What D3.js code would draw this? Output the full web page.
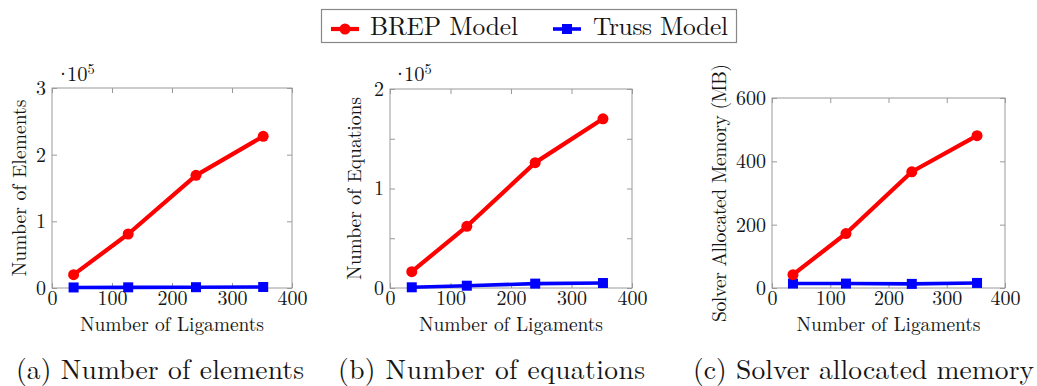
<!DOCTYPE html>
<html>
<head>
<meta charset="utf-8">
<script src="https://cdn.jsdelivr.net/npm/d3@7"></script>
<style>
  html, body { margin: 0; padding: 0; background: #fff; }
  svg { display: block; }
</style>
</head>
<body>
<svg id="chart" width="1037" height="386"></svg>
<script>
// ---------------- data ----------------
const ligaments = [36, 127, 240, 352];
const xTicks = [0, 100, 200, 300, 400];

const elementsBrep  = [20000, 81000, 169000, 227500];
const elementsTruss = [800, 1000, 1200, 1500];
const elementsTicks = [0, 100000, 200000, 300000];

const equationsBrep  = [16400, 62000, 126000, 170000];
const equationsTruss = [700, 2300, 4400, 5000];
const equationsTicks = [0, 50000, 100000, 150000, 200000];

const memoryBrep  = [42, 172, 367, 481];
const memoryTruss = [14, 14, 13, 16];
const memoryTicks = [0, 200, 400, 600];

const seriesNames = ["BREP Model", "Truss Model"];
const xLabel = "Number of Ligaments";
const yLabels = ["Number of Elements", "Number of Equations", "Solver Allocated Memory (MB)"];
const captions = ["(a) Number of elements", "(b) Number of equations", "(c) Solver allocated memory"];

// ---------------- drawing ----------------
const FONT = "'Latin Modern Roman', 'Liberation Serif', serif";
const svg = d3.select("#chart").style("font-family", FONT);
const RED = "#ff0000", BLUE = "#0000ff", FRAME = "#9a9a9a", INK = "#151515";

const txt = (sel, size) => sel.style("font-family", FONT).style("font-size", size + "px").attr("fill", INK);

const panels = [
  { left: 52,  right: 292,  top: 88, bottom: 288, ymax: 300000, yTicks: elementsTicks,
    brep: elementsBrep, truss: elementsTruss, scaleExp: true, fmt: d => (d % 100000 === 0 ? d / 100000 : ""),
    yLabelX: 20, yLabelLen: 177, expX: 55, capX: 16, capLen: 288 },
  { left: 390, right: 632,  top: 89, bottom: 288, ymax: 200000, yTicks: equationsTicks,
    brep: equationsBrep, truss: equationsTruss, scaleExp: true, fmt: d => (d % 100000 === 0 ? d / 100000 : ""),
    yLabelX: 355, yLabelLen: 183, expX: 392, capX: 338, capLen: 307 },
  { left: 772, right: 1005, top: 98, bottom: 288, ymax: 600, yTicks: memoryTicks,
    brep: memoryBrep, truss: memoryTruss, scaleExp: false, fmt: d => d,
    yLabelX: 720, yLabelLen: 258, expX: 0, capX: 693, capLen: 341 }
];

panels.forEach((p, i) => {
  const x = d3.scaleLinear().domain([0, 400]).range([p.left, p.right]);
  const y = d3.scaleLinear().domain([0, p.ymax]).range([p.bottom, p.top]);
  const g = svg.append("g");

  // frame
  g.append("rect")
    .attr("x", p.left).attr("y", p.top)
    .attr("width", p.right - p.left).attr("height", p.bottom - p.top)
    .attr("fill", "none").attr("stroke", FRAME).attr("stroke-width", 1);

  const styleAxis = (sel) => {
    sel.attr("font-family", null).attr("font-size", null);
    sel.select(".domain").remove();
    sel.selectAll(".tick line").attr("stroke", FRAME).attr("stroke-width", 1);
    sel.selectAll("text").call(txt, 20);
  };

  // axes (ticks drawn inward)
  g.append("g").attr("transform", `translate(0,${p.bottom})`)
    .call(d3.axisBottom(x).tickValues(xTicks).tickSize(-5).tickPadding(3).tickFormat(d3.format("d")))
    .call(styleAxis);
  g.append("g").attr("transform", `translate(0,${p.top})`)
    .call(d3.axisTop(x).tickValues(xTicks).tickSize(-5).tickFormat(""))
    .call(styleAxis);
  g.append("g").attr("transform", `translate(${p.left},0)`)
    .call(d3.axisLeft(y).tickValues(p.yTicks).tickSize(-5).tickPadding(6).tickFormat(p.fmt))
    .call(styleAxis);
  g.append("g").attr("transform", `translate(${p.right},0)`)
    .call(d3.axisRight(y).tickValues(p.yTicks).tickSize(-5).tickFormat(""))
    .call(styleAxis);

  // scale exponent
  if (p.scaleExp) {
    const t = g.append("text").attr("x", p.expX).attr("y", 81).call(txt, 20.5);
    t.append("tspan").attr("dx", "0 -4 0").text("·10");
    t.append("tspan").attr("dy", -7).style("font-size", "14.5px").text("5");
  }

  // axis labels
  g.append("text")
    .attr("x", (p.left + p.right) / 2).attr("y", 331)
    .attr("text-anchor", "middle").call(txt, 19.5)
    .attr("textLength", 184).attr("lengthAdjust", "spacing")
    .text(xLabel);
  g.append("text")
    .attr("transform", `translate(${p.yLabelX},${(p.top + p.bottom) / 2}) rotate(-90)`)
    .attr("text-anchor", "middle").attr("dy", "0.32em").call(txt, 19.5)
    .attr("textLength", p.yLabelLen).attr("lengthAdjust", "spacing")
    .text(yLabels[i]);

  // caption
  g.append("text")
    .attr("x", p.capX).attr("y", 379).call(txt, 27.5)
    .attr("textLength", p.capLen).attr("lengthAdjust", "spacing")
    .text(captions[i]);

  // lines
  const line = d3.line().x((d, j) => x(ligaments[j])).y(d => y(d));
  g.append("path").datum(p.truss).attr("d", line)
    .attr("fill", "none").attr("stroke", BLUE).attr("stroke-width", 3.6).attr("stroke-linejoin", "round");
  g.append("path").datum(p.brep).attr("d", line)
    .attr("fill", "none").attr("stroke", RED).attr("stroke-width", 4.2).attr("stroke-linejoin", "round");

  // markers
  const sq = 10;
  g.selectAll(".sq").data(p.truss).enter().append("rect")
    .attr("x", (d, j) => x(ligaments[j]) - sq / 2).attr("y", d => y(d) - sq / 2)
    .attr("width", sq).attr("height", sq).attr("fill", BLUE);
  g.selectAll(".ci").data(p.brep).enter().append("circle")
    .attr("cx", (d, j) => x(ligaments[j])).attr("cy", d => y(d))
    .attr("r", 5.5).attr("fill", RED);
});

// ---------------- legend ----------------
const lg = svg.append("g");
lg.append("rect").attr("x", 321.5).attr("y", 9.5).attr("width", 415).attr("height", 33)
  .attr("fill", "#fff").attr("stroke", "#888").attr("stroke-width", 1.2);
const legendItems = [
  { name: seriesNames[0], color: RED, x0: 331, tx: 370, len: 148, marker: "circle" },
  { name: seriesNames[1], color: BLUE, x0: 553, tx: 593, len: 135, marker: "square" }
];
legendItems.forEach(it => {
  lg.append("line").attr("x1", it.x0).attr("x2", it.x0 + 28).attr("y1", 29).attr("y2", 29)
    .attr("stroke", it.color).attr("stroke-width", it.marker === "circle" ? 4.2 : 3.6);
  if (it.marker === "circle") {
    lg.append("circle").attr("cx", it.x0 + 14).attr("cy", 29).attr("r", 5.5).attr("fill", it.color);
  } else {
    lg.append("rect").attr("x", it.x0 + 9).attr("y", 24).attr("width", 10).attr("height", 10).attr("fill", it.color);
  }
  lg.append("text").attr("x", it.tx).attr("y", 35).call(txt, 25.5)
    .attr("textLength", it.len).attr("lengthAdjust", "spacing")
    .text(it.name);
});
</script>
</body>
</html>
